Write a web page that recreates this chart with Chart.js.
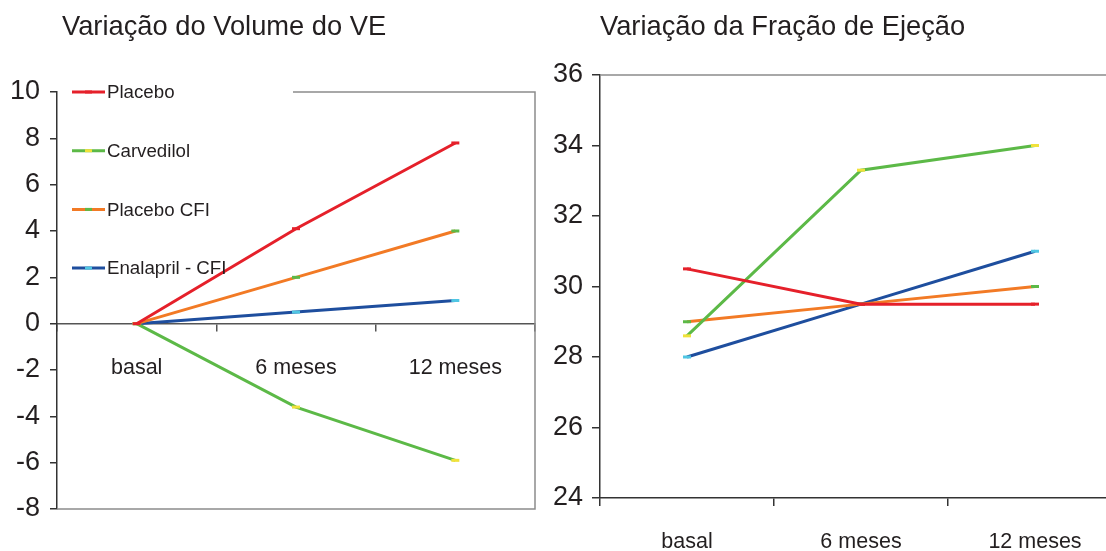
<!DOCTYPE html>
<html>
<head>
<meta charset="utf-8">
<script src="https://cdn.jsdelivr.net/npm/chart.js@4/dist/chart.umd.min.js"></script>
<style>
  html, body { margin: 0; padding: 0; background: #fff; overflow: hidden; }
  #js--chart--volume { position: absolute; left: 0; top: 0; }
  #js--chart--fracao { position: absolute; left: 545px; top: 0; }
</style>
</head>
<body>
<canvas id="js--chart--volume" width="545" height="551"></canvas>
<canvas id="js--chart--fracao" width="600" height="551"></canvas>
<script>
const categories = ["basal", "6 meses", "12 meses"];
const seriesNames = ["Placebo", "Carvedilol", "Placebo CFI", "Enalapril - CFI"];

// Variação do Volume do VE
const volumePlacebo = [0, 4.1, 7.8];
const volumeCarvedilol = [0, -3.6, -5.9];
const volumePlaceboCfi = [0, 2, 4];
const volumeEnalapril = [0, 0.5, 1];
const volumeTicks = [-8, -6, -4, -2, 0, 2, 4, 6, 8, 10];

// Variação da Fração de Ejeção
const fracaoPlacebo = [30.5, 29.5, 29.5];
const fracaoCarvedilol = [28.6, 33.3, 34];
const fracaoPlaceboCfi = [29, 29.5, 30];
const fracaoEnalapril = [28, 29.5, 31];
const fracaoTicks = [24, 26, 28, 30, 32, 34, 36];

const lineColors = ["#e5202a", "#5cb947", "#f27a25", "#1e4e9e"];
const markerColors = ["#e5202a", "#f0e23a", "#5cb947", "#4fc6e3"];
const textColor = "#231f20";
const fontFamily = "'Liberation Sans', Arial, sans-serif";

function makeDatasets(seriesList) {
  return seriesList.map(function (values, i) {
    return {
      label: seriesNames[i],
      data: values,
      borderColor: lineColors[i],
      borderWidth: 3,
      tension: 0,
      pointStyle: "line",
      pointRadius: 4,
      pointBorderColor: markerColors[i],
      pointBorderWidth: 3,
      pointBackgroundColor: markerColors[i],
    };
  });
}

// title drawn at the chart area's left edge
const titlePlugin = {
  id: "sideTitle",
  afterDraw: function (chart, args, opts) {
    const ctx = chart.ctx;
    ctx.save();
    ctx.fillStyle = textColor;
    ctx.font = "27.3px " + fontFamily;
    ctx.textBaseline = "middle";
    ctx.textAlign = "left";
    ctx.fillText(opts.text, chart.chartArea.left + opts.dx, 27);
    ctx.restore();
  },
};

// grey frame around the plot
const framePlugin = {
  id: "frame",
  beforeDatasetsDraw: function (chart, args, opts) {
    const a = chart.chartArea;
    const ctx = chart.ctx;
    ctx.save();
    ctx.strokeStyle = "#8c8c8c";
    ctx.lineWidth = 1.5;
    ctx.beginPath();
    ctx.moveTo(a.left + opts.topStart, a.top);
    ctx.lineTo(a.right, a.top);
    ctx.lineTo(a.right, a.bottom);
    if (opts.bottom) {
      ctx.lineTo(a.left, a.bottom);
    }
    ctx.stroke();
    ctx.restore();
  },
};

// vertical legend inside the plot
const legendPlugin = {
  id: "sideLegend",
  afterDraw: function (chart) {
    const ctx = chart.ctx;
    const a = chart.chartArea;
    ctx.save();
    ctx.font = "18.7px " + fontFamily;
    ctx.textBaseline = "middle";
    ctx.textAlign = "left";
    chart.data.datasets.forEach(function (ds, i) {
      const y = a.top + i * 58.7;
      const x0 = a.left + 15;
      ctx.strokeStyle = ds.borderColor;
      ctx.lineWidth = 3;
      ctx.beginPath();
      ctx.moveTo(x0, y);
      ctx.lineTo(x0 + 33, y);
      ctx.stroke();
      ctx.strokeStyle = ds.pointBorderColor;
      ctx.beginPath();
      ctx.moveTo(x0 + 13, y);
      ctx.lineTo(x0 + 20, y);
      ctx.stroke();
      ctx.fillStyle = textColor;
      ctx.fillText(ds.label, x0 + 35, y + 1);
    });
    ctx.restore();
  },
};

const volumeConfig = {
  type: "line",
  data: {
    labels: categories,
    datasets: makeDatasets([volumePlacebo, volumeCarvedilol, volumePlaceboCfi, volumeEnalapril]),
  },
  options: {
    responsive: false,
    animation: false,
    devicePixelRatio: 1,
    layout: { padding: { top: 92, right: 10, bottom: 42, left: 0 } },
    plugins: {
      legend: { display: false },
      tooltip: { enabled: false },
      sideTitle: { text: "Variação do Volume do VE", dx: 5 },
      frame: { topStart: 236, bottom: true },
    },
    scales: {
      x: {
        position: { y: 0 },
        offset: true,
        grid: { offset: true, drawOnChartArea: false, tickLength: 7, color: "#555", lineWidth: 1.5 },
        border: { color: "#555", width: 1.5 },
        ticks: { color: textColor, font: { size: 21.5, family: fontFamily }, padding: 25, maxRotation: 0 },
      },
      y: {
        min: volumeTicks[0],
        max: volumeTicks[volumeTicks.length - 1],
        afterFit: function (scale) { scale.width = 57; },
        afterBuildTicks: function (scale) {
          scale.ticks = volumeTicks.map(function (v) { return { value: v }; });
        },
        grid: { drawOnChartArea: false, tickLength: 7, color: "#333", lineWidth: 1.5 },
        border: { color: "#333", width: 1.5 },
        ticks: { color: textColor, font: { size: 27, family: fontFamily }, padding: 10 },
      },
    },
  },
  plugins: [titlePlugin, framePlugin, legendPlugin],
};

new Chart(document.getElementById("js--chart--volume"), volumeConfig);

const fracaoConfig = {
  type: "line",
  data: {
    labels: categories,
    datasets: makeDatasets([fracaoPlacebo, fracaoCarvedilol, fracaoPlaceboCfi, fracaoEnalapril]),
  },
  options: {
    responsive: false,
    animation: false,
    devicePixelRatio: 1,
    layout: { padding: { top: 75, right: 23, bottom: 0, left: 0 } },
    plugins: {
      legend: { display: false },
      tooltip: { enabled: false },
      sideTitle: { text: "Variação da Fração de Ejeção", dx: 0 },
      frame: { topStart: 0, bottom: false },
    },
    scales: {
      x: {
        offset: true,
        afterFit: function (scale) { scale.height = 53; },
        grid: { offset: true, drawOnChartArea: false, tickLength: 8, color: "#333", lineWidth: 1.5 },
        border: { color: "#333", width: 1.5 },
        ticks: { color: textColor, font: { size: 21.5, family: fontFamily }, padding: 23, maxRotation: 0 },
      },
      y: {
        min: fracaoTicks[0],
        max: fracaoTicks[fracaoTicks.length - 1],
        afterFit: function (scale) { scale.width = 55; },
        afterBuildTicks: function (scale) {
          scale.ticks = fracaoTicks.map(function (v) { return { value: v }; });
        },
        grid: { drawOnChartArea: false, tickLength: 8, color: "#333", lineWidth: 1.5 },
        border: { color: "#333", width: 1.5 },
        ticks: { color: textColor, font: { size: 27, family: fontFamily }, padding: 9 },
      },
    },
  },
  plugins: [titlePlugin, framePlugin],
};

new Chart(document.getElementById("js--chart--fracao"), fracaoConfig);
</script>
</body>
</html>
